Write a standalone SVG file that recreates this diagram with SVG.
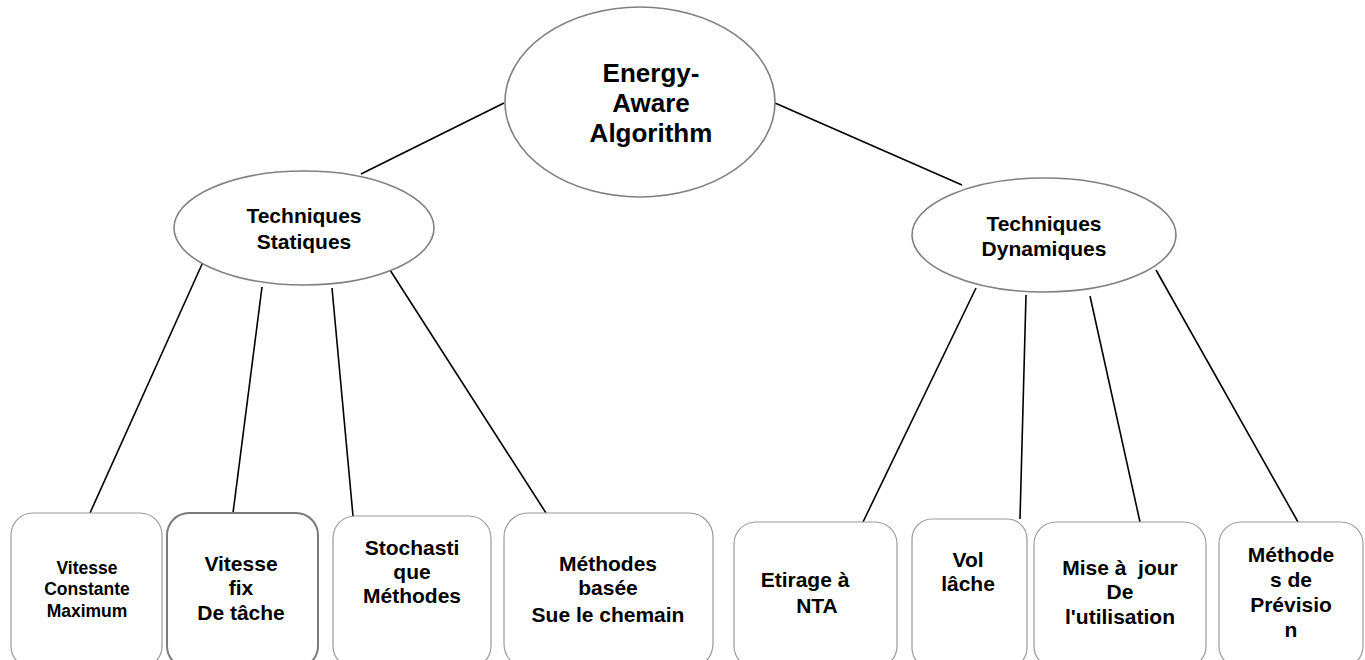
<svg xmlns="http://www.w3.org/2000/svg" width="1365" height="660" viewBox="0 0 1365 660">
<style>
.ell{fill:#fff;stroke:#808080;stroke-width:1.6}
.box{fill:#fff;stroke:#9a9a9a;stroke-width:1.2}
.box2{fill:#fff;stroke:#7a7a7a;stroke-width:2}
.t{font-family:"Liberation Sans",Arial,sans-serif;font-weight:bold;fill:#000;text-anchor:middle}
.c line{stroke:#000;stroke-width:1.6}
</style>
<rect width="1365" height="660" fill="#fff"/>
<g class="c" id="connectors">
<line x1="361" y1="174" x2="504" y2="103"/>
<line x1="775" y1="103" x2="962" y2="185"/>
<line x1="203" y1="262" x2="90" y2="513"/>
<line x1="262" y1="287" x2="233" y2="513"/>
<line x1="332" y1="288" x2="353" y2="516"/>
<line x1="390" y1="270" x2="546" y2="513"/>
<line x1="976" y1="288" x2="863" y2="522"/>
<line x1="1026" y1="295" x2="1020" y2="519"/>
<line x1="1090" y1="296" x2="1140" y2="522"/>
<line x1="1156" y1="270" x2="1298" y2="522"/>
</g>
<g id="root">
<ellipse class="ell" cx="640" cy="102" rx="135" ry="95"/>
<text class="t" font-size="26" x="651" y="82">Energy-</text>
<text class="t" font-size="26" x="651" y="112">Aware</text>
<text class="t" font-size="26" x="651" y="142">Algorithm</text>
</g>
<g id="statiques">
<ellipse class="ell" cx="304" cy="228" rx="130" ry="57"/>
<text class="t" font-size="21" x="304" y="223">Techniques</text>
<text class="t" font-size="21" x="304" y="249">Statiques</text>
</g>
<g id="dynamiques">
<ellipse class="ell" cx="1044" cy="235" rx="132" ry="57"/>
<text class="t" font-size="21" x="1044" y="231">Techniques</text>
<text class="t" font-size="21" x="1044" y="256">Dynamiques</text>
</g>
<g id="b1">
<rect class="box" x="11" y="513" width="151" height="155" rx="22"/>
<text class="t" font-size="17.5" x="87" y="574">Vitesse</text>
<text class="t" font-size="17.5" x="87" y="595">Constante</text>
<text class="t" font-size="17.5" x="87" y="617">Maximum</text>
</g>
<g id="b2">
<rect class="box2" x="167" y="513" width="151" height="155" rx="22"/>
<text class="t" font-size="21" x="241" y="571">Vitesse</text>
<text class="t" font-size="21" x="241" y="595">fix</text>
<text class="t" font-size="21" x="241" y="620">De tâche</text>
</g>
<g id="b3">
<rect class="box" x="333" y="516" width="158" height="152" rx="22"/>
<text class="t" font-size="21" x="412" y="555">Stochasti</text>
<text class="t" font-size="21" x="412" y="579">que</text>
<text class="t" font-size="21" x="412" y="603">Méthodes</text>
</g>
<g id="b4">
<rect class="box" x="504" y="513" width="209" height="155" rx="24"/>
<text class="t" font-size="21" x="608" y="571">Méthodes</text>
<text class="t" font-size="21" x="608" y="595">basée</text>
<text class="t" font-size="21" x="608" y="622">Sue le chemain</text>
</g>
<g id="b5">
<rect class="box" x="734" y="522" width="163" height="146" rx="22"/>
<text class="t" font-size="21" x="805" y="587">Etirage à</text>
<text class="t" font-size="21" x="817" y="613">NTA</text>
</g>
<g id="b6">
<rect class="box" x="912" y="519" width="115" height="149" rx="20"/>
<text class="t" font-size="21" x="968" y="567">Vol</text>
<text class="t" font-size="21" x="968" y="591">lâche</text>
</g>
<g id="b7">
<rect class="box" x="1034" y="522" width="172" height="146" rx="22"/>
<text class="t" font-size="21" x="1120" y="575" xml:space="preserve">Mise à  jour</text>
<text class="t" font-size="21" x="1120" y="599">De</text>
<text class="t" font-size="21" x="1120" y="624">l'utilisation</text>
</g>
<g id="b8">
<rect class="box" x="1219" y="522" width="144" height="146" rx="22"/>
<text class="t" font-size="21" x="1291" y="562">Méthode</text>
<text class="t" font-size="21" x="1291" y="587">s de</text>
<text class="t" font-size="21" x="1291" y="612">Prévisio</text>
<text class="t" font-size="21" x="1291" y="637">n</text>
</g>
</svg>
